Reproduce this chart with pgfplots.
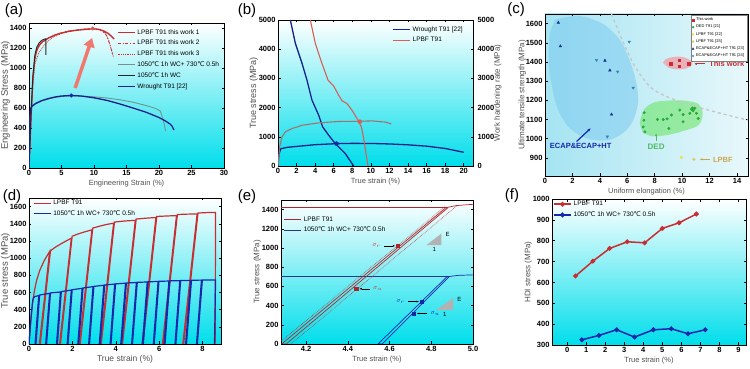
\documentclass[border=0pt]{standalone}
\usepackage{fontspec}
\setmainfont{Liberation Sans}
\newfontfamily\djv{DejaVu Sans}
\usepackage{pgfplots}
\pgfplotsset{compat=1.18}
\usetikzlibrary{arrows.meta}
\newcommand{\dc}{{\djv ℃}}
\definecolor{bgc}{RGB}{0,222,235}
\definecolor{labgray}{RGB}{80,80,80}
\definecolor{lred}{RGB}{200,45,50}
\definecolor{wblue}{RGB}{20,35,140}
\definecolor{ggreen}{RGB}{110,150,140}
\definecolor{lpbfr}{RGB}{215,95,85}
\definecolor{lpbfg}{RGB}{160,115,110}
\definecolor{dblue}{RGB}{20,40,170}
\definecolor{arrowred}{RGB}{240,120,110}
\definecolor{ecapfill}{RGB}{120,200,240}
\definecolor{dedfill}{RGB}{100,230,90}
\definecolor{dedpt}{RGB}{40,170,60}
\definecolor{pinkfill}{RGB}{245,150,160}
\definecolor{lpbfy}{RGB}{235,225,70}
\definecolor{lpbfo}{RGB}{225,200,90}
\definecolor{lpbftxt}{RGB}{205,165,80}
\definecolor{ecapdark}{RGB}{20,50,140}
\definecolor{ecaplight}{RGB}{50,130,180}
\definecolor{cbg1}{RGB}{165,228,242}
\definecolor{cbg2}{RGB}{232,248,251}
\pgfplotsset{
  panel/.style={
    scale only axis, anchor=south west,
    axis line style={line width=0.7pt},
    tick align=inside, tick style={black, line width=0.5pt}, major tick length=2.5pt,
    ticklabel style={font=\bfseries\fontsize{7.5}{8}\selectfont},
    xticklabel style={yshift=1pt},
    yticklabel style={xshift=1pt},
    /pgf/number format/assume math mode=true,
    /pgf/number format/1000 sep={},
    scaled ticks=false,
    label style={text=labgray},
    xlabel style={font=\fontsize{7.5}{8}\selectfont},
    ylabel style={font=\fontsize{8}{9}\selectfont},
    ylabel shift=-6pt, xlabel shift=-3pt,
    axis background/.style={top color=white, bottom color=bgc},
    legend style={draw=none, fill=none, font=\fontsize{6.5}{7}\selectfont, row sep=0.5pt, inner sep=0pt},
    legend cell align=left,
  }
}
\begin{document}
\begin{tikzpicture}
\path[use as bounding box] (0,0) rectangle (750pt,369pt);
% ---------------- (a)
\begin{axis}[panel, at={(29pt,201pt)}, width=195pt, height=145pt,
  xmin=0, xmax=30, ymin=0, ymax=1450, xtick={0,5,...,30}, ytick={0,200,...,1400},
  xlabel={Engineering Strain (\%)}, ylabel={Engineering Stress (MPa)},
  ylabel style={font=\fontsize{9.5}{10}\selectfont}, ylabel shift=-7pt,
  legend style={at={(0.45,0.97)}, anchor=north west}]
\addplot[lred, line width=1.4pt] coordinates {(0,0)(0.3,500)(0.6,900)(0.9,1100)(1.2,1180)(1.6,1230)(2,1260)(3,1300)(4,1330)(5,1350)(6,1365)(7,1375)(8,1382)(9,1388)(10,1392)(10.8,1385)(11.5,1370)(12.2,1345)(12.8,1310)(13.1,1290)};
\addlegendentry{LPBF T91 this work 1}
\addplot[lred, line width=0.8pt, dash dot] coordinates {(0,0)(0.3,480)(0.6,880)(0.9,1080)(1.2,1170)(1.6,1225)(2,1255)(3,1300)(4,1330)(5,1352)(6,1368)(7,1378)(8,1386)(9,1392)(10,1395)(11,1380)(11.8,1340)(12.2,1280)(12.6,1200)(12.9,1120)};
\addlegendentry{LPBF T91 this work 2}
\addplot[lred, line width=0.8pt, densely dotted] coordinates {(0,0)(0.3,450)(0.6,820)(0.9,1040)(1.5,1150)(2.5,1240)(3.5,1300)(5,1345)(6,1362)(7,1374)(8,1384)(9,1390)(10,1393)(11,1385)(11.7,1350)(12.2,1290)(12.7,1180)(13,1110)};
\addlegendentry{LPBF T91 this work 3}
\addplot[ggreen, line width=0.9pt] coordinates {(0,0)(0.1,400)(0.25,600)(1,640)(2,670)(3,690)(4,705)(5,715)(6,720)(7,722)(8,720)(10,712)(12,700)(14,682)(16,658)(18,625)(19.5,595)(20.2,570)(20.6,490)(20.9,410)(21,370)};
\addlegendentry{1050\dc{} 1h WC+ 730\dc{} 0.5h}
\addplot[black!85, line width=0.9pt] coordinates {(0,0)(0.3,520)(0.6,920)(0.9,1130)(1.2,1210)(1.6,1255)(2,1278)(2.5,1292)(2.6,1292)(2.6,1130)};
\addlegendentry{1050\dc{} 1h WC}
\addplot[wblue, line width=1.3pt] coordinates {(0,0)(0.1,400)(0.2,590)(0.5,620)(1,645)(2,675)(3,695)(4,710)(5,720)(6.5,725)(8,720)(10,702)(12,676)(14,640)(16,600)(18,558)(20,505)(21,470)(21.7,440)(22,420)(22.3,380)};
\addlegendentry{Wrought T91 [22]}
\addplot[only marks, mark=*, mark size=1.8pt, color=dblue, forget plot] coordinates {(6.5,725)};
\addplot[only marks, mark=*, mark size=1.8pt, color=lpbfr, forget plot] coordinates {(9.8,1395)};
\draw[-{Triangle[width=11pt,length=9pt]}, line width=3.5pt, arrowred] (axis cs:7.1,800) -- (axis cs:9.7,1300);
\end{axis}
\node[font=\fontsize{15}{16}\selectfont] at (14pt,358pt) {(a)};
% ---------------- (b)
\begin{axis}[panel, at={(278pt,203pt)}, width=195pt, height=146pt,
  xmin=0, xmax=21, ymin=0, ymax=5000, xtick={0,2,...,20}, ytick={0,1000,...,5000}, ytick pos=left,
  xlabel={True strain (\%)}, ylabel={True stress (MPa)},
  ylabel style={font=\fontsize{9}{10}\selectfont},
  legend style={at={(0.585,0.97)}, anchor=north west}]
\addplot[wblue, line width=1.3pt] coordinates {(0,0)(0.1,400)(0.3,590)(1,640)(2,670)(4,730)(6.3,765)(8,775)(10,772)(12,755)(14,725)(16,680)(18,600)(20,470)};
\addlegendentry{Wrought T91 [22]}
\addplot[lpbfr, line width=1.1pt] coordinates {(3.48,5000)(4.02,4199)(4.67,3570)(5.39,2940)(6.0,2734)(6.53,2426)(6.9,2231)(7.43,2140)(7.97,1911)(8.51,1625)(8.98,1339)(9.26,881)(9.48,423)(9.69,0)};
\addlegendentry{LPBF T91}
\addplot[wblue, line width=1.3pt, forget plot] coordinates {(1.33,5000)(1.87,4199)(2.59,3513)(3.12,2940)(3.66,2254)(4.38,1739)(4.81,1339)(5.46,1053)(6.17,767)(7.25,423)(8.15,0)};
\addplot[lpbfg, line width=1.1pt, forget plot] coordinates {(0,0)(0.18,652)(0.43,995)(0.79,1167)(1.5,1281)(2.6,1396)(4.38,1476)(6.53,1525)(8.7,1530)(10.1,1545)(11.56,1505)(12.2,1440)};
\addplot[only marks, mark=*, mark size=2pt, color=dblue, forget plot] coordinates {(6.3,767)};
\addplot[only marks, mark=*, mark size=2pt, color=lpbfr, forget plot] coordinates {(8.8,1520)};
\end{axis}
\begin{axis}[panel, at={(278pt,203pt)}, width=195pt, height=146pt, axis background/.style={},
  axis x line=none, axis y line*=right, xmin=0, xmax=21, ymin=0, ymax=5000, ytick={0,1000,...,5000},
  ylabel={Work hardening rate (MPa)}, ylabel shift=-7pt]
\addplot[draw=none] coordinates {(0,0)};
\end{axis}
\node[font=\fontsize{15}{16}\selectfont] at (247pt,358pt) {(b)};
% ---------------- (c)
\begin{axis}[panel, at={(545pt,193pt)}, width=203pt, height=162pt,
  axis background/.style={left color=cbg1, right color=cbg2},
  xmin=0, xmax=14.8, ymin=805, ymax=1650, xtick={0,2,...,14}, ytick={900,1000,...,1600},
  xlabel={Uniform elongation (\%)}, ylabel={Ultimate tensile strength (MPa)}, ylabel shift=-7pt,
  legend style={at={(0.995,0.995)}, anchor=north east, draw=gray, fill=white, font=\fontsize{4}{4.2}\selectfont, inner sep=0.8pt, row sep=-1.2pt},
  legend image post style={mark size=1.0pt}]
\addplot[fill=ecapfill, fill opacity=0.5, draw=none, forget plot, smooth] coordinates {(0.7,1620)(2.5,1640)(4.3,1595)(5.6,1500)(6.5,1340)(6.8,1200)(6.4,1090)(5.7,1030)(4.8,995)(3.9,990)(2.7,1010)(1.6,1070)(0.8,1180)(0.3,1370)(0.35,1550)} -- cycle;
\addplot[fill=dedfill, fill opacity=0.55, draw=none, forget plot, smooth] coordinates {(6.9,1080)(7.2,1150)(8,1190)(9.5,1200)(10.5,1195)(11.2,1180)(11.5,1130)(11.2,1070)(10.1,1040)(9,1020)(7.8,1012)(7.1,1035)} -- cycle;
\addplot[fill=pinkfill, fill opacity=0.7, draw=none, forget plot, smooth] coordinates {(8.6,1395)(8.8,1415)(9.3,1425)(9.8,1428)(10.3,1420)(10.75,1400)(10.6,1375)(10.1,1363)(9.5,1362)(9.0,1370)} -- cycle;
\addplot[gray!45, dashed, line width=1.3pt, forget plot, smooth] coordinates {(4.85,1650)(5.6,1520)(6.55,1377)(7.77,1263)(9.47,1202)(11.9,1149)(14.3,1105)(14.8,1097)};
\addplot[only marks, mark=square*, mark size=1.3pt, color=lred] coordinates {(9.15,1391)(9.78,1409)(9.78,1377)(10.49,1391)};
\addlegendentry{This work}
\addplot[only marks, mark=*, mark size=1.3pt, color=dedpt] coordinates {(7.23,1135)(7.21,1096)(7.16,1061)(7.28,1035)(8.2,1100)(8.62,1100)(8.9,1103)(9.22,1123)(9.03,1053)(9.83,1149)(10.07,1088)(10.07,1125)(10.56,1132)(10.68,1153)(10.92,1158)(11.04,1132)(11.17,1105)(10.8,1146)(10.75,1160)};
\addlegendentry{DED T91 [21]}
\addplot[only marks, mark=*, mark size=1.3pt, color=lpbfy] coordinates {(9.94,902)};
\addlegendentry{LPBF T91 [22]}
\addplot[only marks, mark=*, mark size=1.3pt, color=lpbfo] coordinates {(10.86,892)};
\addlegendentry{LPBF T91 [25]}
\addplot[only marks, mark=triangle*, mark size=1.5pt, color=ecapdark] coordinates {(0.97,1605)(1.12,1482)(4.37,1407)(4.73,1356)(4.85,1126)};
\addlegendentry{ECAP\&ECAP+HT T91 [23]}
\addplot[only marks, mark=triangle*, mark options={rotate=180}, mark size=1.5pt, color=ecaplight] coordinates {(3.76,1410)(5.3,1349)(6.14,1505)(6.43,1265)(4.54,1010)};
\addlegendentry{ECAP\&ECAP+HT T91 [24]}
\node[font=\bfseries\fontsize{7.5}{8}\selectfont, text=lred, anchor=west] at (axis cs:11.72,1388) {This work};
\draw[-{Latex[length=3pt]}, line width=0.9pt, lred] (axis cs:11.7,1390) -- (axis cs:10.85,1390);
\node[font=\bfseries\fontsize{7.5}{8}\selectfont, text=dblue] at (axis cs:2.6,961) {ECAP\&ECAP+HT};
\draw[-{Latex[length=3.5pt]}, line width=1.2pt, dblue] (axis cs:2.3,985) -- (axis cs:3.35,1055);
\node[font=\bfseries\fontsize{8}{9}\selectfont, text=dedpt!80] at (axis cs:8.1,958) {DED};
\draw[-{Latex[length=3pt]}, line width=1pt, dedpt!80] (axis cs:8.1,990) -- (axis cs:8.1,1030);
\node[font=\bfseries\fontsize{7.5}{8}\selectfont, text=lpbftxt, anchor=west] at (axis cs:12.0,890) {LPBF};
\draw[-{Latex[length=3pt]}, line width=1pt, lpbftxt] (axis cs:12.0,892) -- (axis cs:11.25,892);
\end{axis}
\node[font=\fontsize{15}{16}\selectfont] at (516pt,359pt) {(c)};
% ---------------- (d)
\begin{axis}[panel, at={(29pt,25pt)}, width=192pt, height=146pt,
  xmin=0, xmax=8.85, ymin=0, ymax=1700, xtick={0,2,...,8}, ytick={0,200,...,1600},
  xlabel={True strain (\%)}, ylabel={True stress (MPa)},
  xlabel style={font=\fontsize{8.5}{9}\selectfont},
  ylabel style={font=\fontsize{9.5}{10}\selectfont}, ylabel shift=-7pt,
  legend style={at={(0.02,1.0)}, anchor=north west}]
\addplot[lred, line width=1.2pt] coordinates {(0,0)(0.08,250)(0.15,450)(0.25,620)(0.35,740)(0.5,860)(0.7,970)(0.95,1077)
(0.48,0)(0.52,0)(0.99,1085)(1.2,1125)(1.5,1170)(1.75,1205)(1.95,1232)
(1.41,0)(1.45,0)(1.99,1255)(2.3,1285)(2.6,1308)(2.9,1329)
(2.32,0)(2.36,0)(2.94,1350)(3.3,1375)(3.6,1393)(3.9,1407)
(3.29,0)(3.33,0)(3.94,1420)(4.4,1432)(4.9,1440)
(4.27,0)(4.31,0)(4.94,1455)(5.4,1465)(5.85,1473)
(5.21,0)(5.25,0)(5.89,1485)(6.3,1490)(6.8,1495)
(6.15,0)(6.19,0)(6.84,1508)(7.3,1512)(7.75,1515)
(7.09,0)(7.13,0)(7.79,1525)(8.2,1530)(8.6,1530)(8.58,0)};
\addlegendentry{LPBF T91}
\addplot[dblue, line width=1.2pt] coordinates {(0,0)(0.1,330)(0.18,520)(0.25,550)(0.45,565)(0.28,0)(0.32,0)(0.49,570)
(0.95,590)(0.77,0)(0.81,0)(0.99,595)
(1.45,605)(1.27,0)(1.31,0)(1.49,610)
(1.95,628)(1.76,0)(1.80,0)(1.99,632)
(2.45,648)(2.25,0)(2.29,0)(2.49,652)
(2.95,668)(2.75,0)(2.79,0)(2.99,671)
(3.45,684)(3.24,0)(3.28,0)(3.49,687)
(3.95,698)(3.74,0)(3.78,0)(3.99,700)
(4.45,708)(4.23,0)(4.27,0)(4.49,710)
(4.95,716)(4.73,0)(4.77,0)(4.99,718)
(5.45,722)(5.23,0)(5.27,0)(5.49,724)
(5.95,728)(5.73,0)(5.77,0)(5.99,730)
(6.45,733)(6.23,0)(6.27,0)(6.49,735)
(6.95,738)(6.73,0)(6.77,0)(6.99,739)
(7.45,741)(7.22,0)(7.26,0)(7.49,742)
(7.95,744)(7.72,0)(7.76,0)(7.99,745)
(8.45,746)(8.6,746)(8.55,0)};
\addlegendentry{1050\dc{} 1h WC+ 730\dc{} 0.5h}
\end{axis}
\node[font=\fontsize{15}{16}\selectfont] at (12pt,172pt) {(d)};
% ---------------- (e)
\begin{axis}[panel, at={(281pt,25pt)}, width=192pt, height=144pt,
  xmin=4.08, xmax=5.0, ymin=0, ymax=1500, xtick={4.2,4.4,4.6,4.8,5.0}, ytick={0,200,...,1400},
  xticklabel style={/pgf/number format/fixed, /pgf/number format/precision=1, /pgf/number format/fixed zerofill},
  xlabel={True strain (\%)}, ylabel={True stress (MPa)},
  legend style={at={(0.015,0.9)}, anchor=north west}]
\addplot[lred!85!black, line width=0.6pt] coordinates {(4.08,1420)(4.88,1420)};
\addlegendentry{LPBF T91}
\addplot[wblue!80!gray, line width=0.6pt] coordinates {(4.08,700)(4.88,700)};
\addlegendentry{1050\dc{} 1h WC+ 730\dc{} 0.5h}
\addplot[lred!90!black, line width=0.7pt, forget plot] coordinates {(4.88,1420)(4.105,0)(4.083,0)(4.87,1420)(4.92,1442)(5.0,1455)};
\addplot[lred, line width=0.6pt, densely dotted, forget plot] coordinates {(4.064,0)(4.865,1430)};
\addplot[lred, line width=0.6pt, densely dotted, forget plot] coordinates {(4.128,0)(4.929,1450)};
\addplot[dblue, line width=0.7pt, forget plot] coordinates {(4.885,700)(4.565,0)(4.545,0)(4.875,700)(4.93,715)(5.0,720)};
\addplot[only marks, mark=square*, mark size=1.6pt, color=lred!85!black, forget plot] coordinates {(4.641,1022)(4.44,575)};
\addplot[only marks, mark=square*, mark size=1.6pt, color=dblue, forget plot] coordinates {(4.755,442)(4.715,318)};
\fill[gray!60] (axis cs:4.777,1030) -- (axis cs:4.849,1030) -- (axis cs:4.849,1151) -- cycle;
\node[font=\fontsize{6}{6}\selectfont, anchor=west] at (axis cs:4.852,1140) {E};
\node[font=\fontsize{6}{6}\selectfont] at (axis cs:4.815,985) {1};
\fill[gray!60] (axis cs:4.825,356) -- (axis cs:4.905,356) -- (axis cs:4.905,477) -- cycle;
\node[font=\fontsize{6}{6}\selectfont, anchor=west] at (axis cs:4.908,466) {E};
\node[font=\fontsize{6}{6}\selectfont] at (axis cs:4.865,312) {1};
\node[font=\fontsize{6}{6}\selectfont, text=lred, anchor=east] at (axis cs:4.575,1022) {$\sigma_r$};
\draw[-{Latex[length=2.5pt]}, line width=0.5pt] (axis cs:4.575,1022) -- (axis cs:4.628,1022);
\node[font=\fontsize{6}{6}\selectfont, text=lred, anchor=west] at (axis cs:4.505,572) {$\sigma_u$};
\draw[-{Latex[length=2.5pt]}, line width=0.5pt] (axis cs:4.505,575) -- (axis cs:4.455,575);
\node[font=\fontsize{6}{6}\selectfont, text=dblue, anchor=east] at (axis cs:4.69,442) {$\sigma_r$};
\draw[-{Latex[length=2.5pt]}, line width=0.5pt] (axis cs:4.69,442) -- (axis cs:4.742,442);
\node[font=\fontsize{6}{6}\selectfont, text=dblue, anchor=west] at (axis cs:4.78,315) {$\sigma_u$};
\draw[-{Latex[length=2.5pt]}, line width=0.5pt] (axis cs:4.78,318) -- (axis cs:4.73,318);
\end{axis}
\node[font=\fontsize{15}{16}\selectfont] at (247pt,172pt) {(e)};
% ---------------- (f)
\begin{axis}[panel, at={(552pt,24pt)}, width=194pt, height=146pt,
  xmin=-0.8, xmax=9.4, ymin=300, ymax=1000, xtick={0,1,...,9}, ytick={300,400,...,1000},
  xlabel={True strain (\%)}, ylabel={HDI stress (MPa)},
  legend style={at={(0.005,1.0)}, anchor=north west}]
\addplot[lred, line width=1.5pt, mark=*, mark size=1.6pt] coordinates {(0.44,631)(1.35,702)(2.23,763)(3.16,795)(4.07,790)(5.0,859)(5.88,886)(6.79,928)};
\addlegendentry{LPBF T91}
\addplot[dblue, line width=1.5pt, mark=*, mark size=1.6pt] coordinates {(0.77,325)(1.67,346)(2.6,373)(3.54,338)(4.53,373)(5.47,378)(6.35,354)(7.26,373)};
\addlegendentry{1050\dc{} 1h WC+ 730\dc{} 0.5h}
\end{axis}
\node[font=\fontsize{15}{16}\selectfont] at (512pt,173pt) {(f)};
\end{tikzpicture}
\end{document}
